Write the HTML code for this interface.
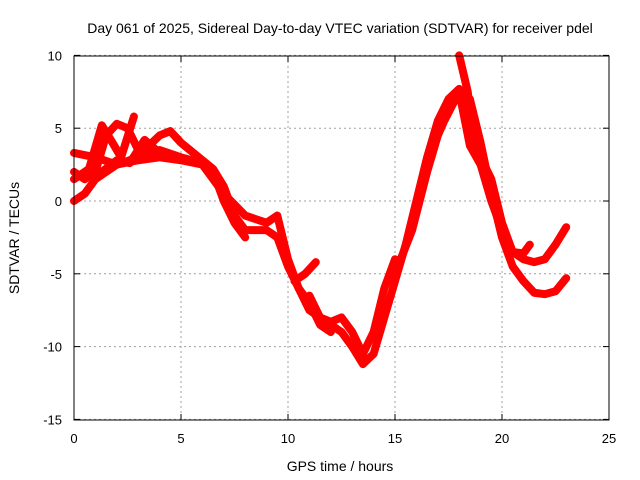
<!DOCTYPE html>
<html><head><meta charset="utf-8"><style>
body{margin:0;background:#fff}
svg{display:block;font-family:"Liberation Sans",sans-serif}
</style></head><body>
<svg id="chart" width="640" height="480" viewBox="0 0 640 480">
<text x="340" y="33" font-size="14" text-anchor="middle">Day 061 of 2025, Sidereal Day-to-day VTEC variation (SDTVAR) for receiver pdel</text>
<g id="grid"></g>
<g id="ticks" font-size="13"></g>
<g id="series"></g>
<rect x="74" y="56" width="535" height="364" fill="none" stroke="#000" stroke-width="1"/>
<text x="340" y="471" font-size="14" text-anchor="middle">GPS time / hours</text>
<text x="0" y="0" font-size="14" text-anchor="middle" transform="translate(19,238) rotate(-90)">SDTVAR / TECUs</text>
</svg>
<script>
const xTicks=[0,5,10,15,20,25];
const yTicks=[10,5,0,-5,-10,-15];
const trackA=[[0,0],[0.5,0.5],[1,1.5],[2,2.5],[3,2.8],[4,3],[5,2.8],[6,2.5],[6.5,1.5],[7,0.5],[8,-1],[9,-1.5],[9.5,-1],[10,-4],[10.5,-6],[11,-7.5],[12,-8.5],[12.5,-9],[13,-10],[13.5,-11.2],[14,-10.5],[14.5,-8],[15,-5.5],[15.5,-3],[16,0],[16.5,3],[17,5.5],[17.5,7],[18,7.7],[18.5,7],[19,4],[19.5,0.5],[20,-2.5],[20.5,-4.5],[21,-5.5],[21.5,-6.3],[22,-6.4],[22.5,-6.2],[23,-5.3]];
const trackB=[[0,2],[0.5,1.5],[1,2],[1.5,4.5],[2,5.3],[2.5,5],[3,3.5],[3.5,3.8],[4,4.5],[4.5,4.8],[5,4],[6,2.8],[6.5,2.2],[7,1],[7.5,-1],[8,-2],[9,-2],[9.5,-2.5],[10,-4.5],[10.5,-6],[11,-7],[11.5,-8.5],[12,-9]];
const trackC=[[0,3.3],[1,3],[2,2.5],[3,3],[4,3.5],[5,3],[6,2.6],[6.5,2],[7,0],[7.5,-1.5],[8,-2.5]];
const trackD=[[0,1.5],[0.7,2.2],[1.3,5.2],[1.8,4],[2.2,3],[2.8,5.8]];
const trackE=[[1.3,2],[2,2.8],[2.6,2.6],[3.3,4.2],[4,3.3],[4.6,3]];
const trackF=[[11,-6.5],[11.5,-8],[12,-8.3],[12.5,-8],[13,-9],[13.5,-10.5],[14,-9],[14.5,-6],[15,-4]];
const trackG=[[18,10],[18.4,7.5],[18.6,5],[19,3],[19.5,1.5],[20,-1.5],[20.5,-3.5],[21,-4],[21.5,-4.2],[22,-4],[22.5,-3],[23,-1.8]];
const trackH=[[15,-5],[15.8,-2],[16.5,2],[17,4.5],[17.3,5.5],[18,7.5],[18.5,3.8],[19,2.5],[19.5,0],[20,-2],[20.5,-3.5],[21,-3.6],[21.3,-3]];
const trackI=[[10.3,-5.5],[10.8,-5],[11.3,-4.2]];
const tracks=[trackA,trackB,trackC,trackD,trackE,trackF,trackG,trackH,trackI];
const X=v=>74+v*21.4, Y=v=>201-v*14.56;
const ns="http://www.w3.org/2000/svg";
const grid=document.getElementById('grid'),ticks=document.getElementById('ticks'),ser=document.getElementById('series');
xTicks.forEach(t=>{
 const l=document.createElementNS(ns,'line');
 
 
 l.setAttribute('x1',X(t));l.setAttribute('x2',X(t));l.setAttribute('y1',56);l.setAttribute('y2',420);
 l.setAttribute('stroke','#a0a0a0');l.setAttribute('stroke-dasharray','2,3');grid.appendChild(l);
 [[56,62],[414,420]].forEach(s=>{
  const m=document.createElementNS(ns,'line');
  
  
  m.setAttribute('x1',X(t));m.setAttribute('x2',X(t));m.setAttribute('y1',s[0]);m.setAttribute('y2',s[1]);
  m.setAttribute('stroke','#000');ticks.appendChild(m);
 });
 const tx=document.createElementNS(ns,'text');
 
 
 tx.setAttribute('x',X(t));tx.setAttribute('y',443);tx.setAttribute('text-anchor','middle');tx.textContent=t;ticks.appendChild(tx);
});
yTicks.forEach(t=>{
 const l=document.createElementNS(ns,'line');
 
 
 l.setAttribute('x1',74);l.setAttribute('x2',609);l.setAttribute('y1',Y(t));l.setAttribute('y2',Y(t));
 l.setAttribute('stroke','#a0a0a0');l.setAttribute('stroke-dasharray','2,3');grid.appendChild(l);
 [[74,80],[603,609]].forEach(s=>{
  const m=document.createElementNS(ns,'line');
  
  
  m.setAttribute('x1',s[0]);m.setAttribute('x2',s[1]);m.setAttribute('y1',Y(t));m.setAttribute('y2',Y(t));
  m.setAttribute('stroke','#000');ticks.appendChild(m);
 });
 const tx=document.createElementNS(ns,'text');
 
 
 tx.setAttribute('x',62);tx.setAttribute('y',Y(t)+5);tx.setAttribute('text-anchor','end');tx.textContent=t;ticks.appendChild(tx);
});
tracks.forEach(tr=>{
 const p=document.createElementNS(ns,'polyline');
 
 
 p.setAttribute('points',tr.map(d=>X(d[0])+','+Y(d[1])).join(' '));
 p.setAttribute('fill','none');p.setAttribute('stroke','#f00');p.setAttribute('stroke-width','8');
 p.setAttribute('stroke-linejoin','round');p.setAttribute('stroke-linecap','round');
 ser.appendChild(p);
});
</script>
</body></html>
